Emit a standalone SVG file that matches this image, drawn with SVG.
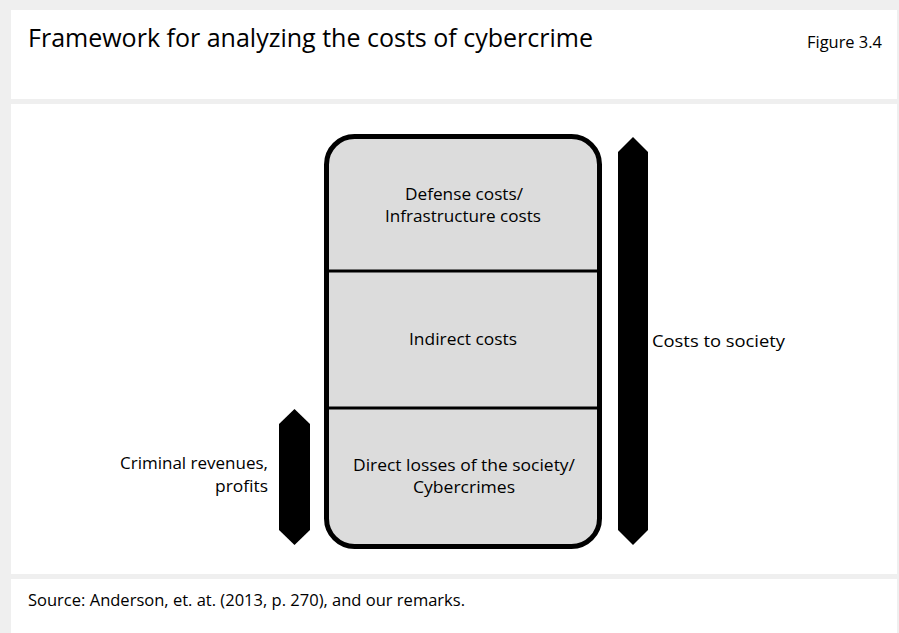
<svg xmlns="http://www.w3.org/2000/svg" width="899" height="633" viewBox="0 0 899 633">
  <style>
    .panel { fill: #ffffff; }
    .lbl { font-family: "Open Sans", "Liberation Sans", sans-serif; font-size: 16px; fill: #000; }
    .mid { text-anchor: middle; }
    .end { text-anchor: end; }
    .box { fill: #dcdcdc; stroke: #000; stroke-width: 5; }
    .div { stroke: #000; stroke-width: 3; }
    .bar { fill: #000; }
  </style>
  <!-- frame background and panels -->
  <rect x="0" y="0" width="899" height="633" fill="#efefef"/>
  <rect class="panel" x="11" y="10" width="886" height="89"/>
  <rect class="panel" x="11" y="104" width="886" height="470"/>
  <rect class="panel" x="11" y="579" width="886" height="54"/>

  <!-- header -->
  <text class="lbl" x="28" y="47" style="font-size:25px" textLength="565" lengthAdjust="spacingAndGlyphs">Framework for analyzing the costs of cybercrime</text>
  <text class="lbl" x="807" y="48" style="font-size:17px" textLength="75" lengthAdjust="spacingAndGlyphs" fill="#222">Figure 3.4</text>

  <!-- stacked cost box -->
  <g id="cost-stack">
    <rect class="box" x="326.5" y="136.5" width="273" height="410" rx="28" ry="28"/>
    <line class="div" x1="328" y1="271" x2="598" y2="271"/>
    <line class="div" x1="328" y1="408" x2="598" y2="408"/>
  </g>
  <g id="defense-costs">
    <text class="lbl" x="405" y="200" textLength="118" lengthAdjust="spacingAndGlyphs">Defense costs/</text>
    <text class="lbl" x="385" y="222" textLength="156" lengthAdjust="spacingAndGlyphs">Infrastructure costs</text>
  </g>
  <g id="indirect-costs">
    <text class="lbl" x="409" y="345" textLength="108" lengthAdjust="spacingAndGlyphs">Indirect costs</text>
  </g>
  <g id="direct-losses">
    <text class="lbl" x="353" y="471" textLength="222" lengthAdjust="spacingAndGlyphs">Direct losses of the society/</text>
    <text class="lbl" x="413" y="493" textLength="102" lengthAdjust="spacingAndGlyphs">Cybercrimes</text>
  </g>

  <!-- span bars -->
  <g id="connectors">
    <polygon class="bar" points="633,137 648,152 648,530 633,545 618,530 618,152"/>
    <polygon class="bar" points="294.5,409 310,424 310,530 294.5,545 279,530 279,424"/>
  </g>
  <g id="costs-to-society">
    <text class="lbl" x="652" y="347" textLength="133" lengthAdjust="spacingAndGlyphs">Costs to society</text>
  </g>
  <g id="criminal-revenues">
    <text class="lbl" x="120" y="469" textLength="148" lengthAdjust="spacingAndGlyphs">Criminal revenues,</text>
    <text class="lbl" x="215" y="492" textLength="53" lengthAdjust="spacingAndGlyphs">profits</text>
  </g>

  <!-- footer -->
  <text class="lbl" x="28" y="606" style="font-size:16.5px" textLength="437" lengthAdjust="spacingAndGlyphs" fill="#222">Source: Anderson, et. at. (2013, p. 270), and our remarks.</text>
</svg>
